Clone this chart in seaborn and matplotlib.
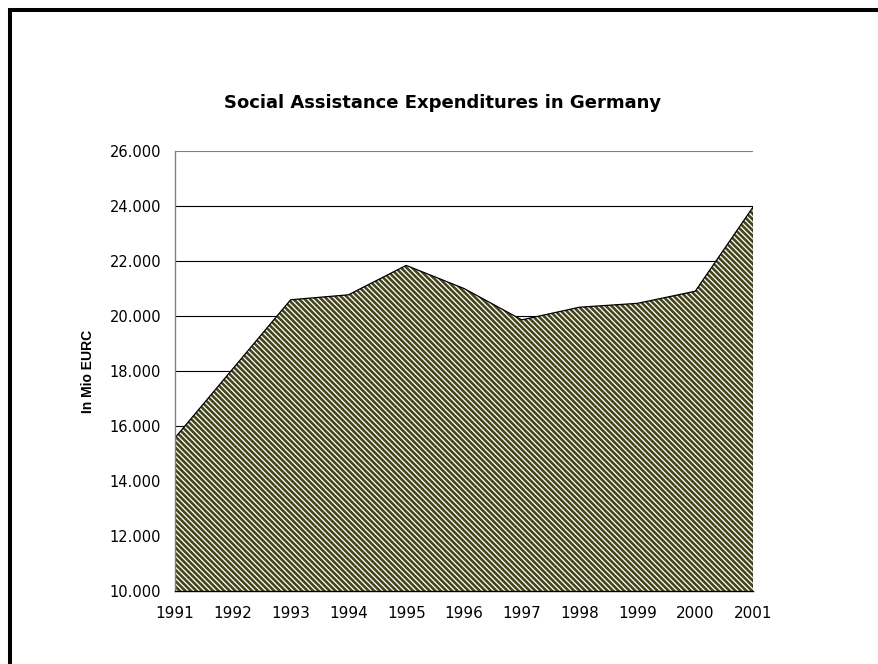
import matplotlib
matplotlib.use("Agg")
import matplotlib.pyplot as plt
from matplotlib.lines import Line2D
from matplotlib.ticker import FuncFormatter
import seaborn as sns
import pandas as pd

# Social assistance expenditures, Germany (million EUR)
years = [1991, 1992, 1993, 1994, 1995, 1996, 1997, 1998, 1999, 2000, 2001]
expenditures = [15570, 18080, 20590, 20770, 21840, 21000, 19860, 20320, 20460, 20900, 23960]
y_ticks = [10000, 12000, 14000, 16000, 18000, 20000, 22000, 24000, 26000]

title = "Social Assistance Expenditures in Germany"
y_label = "In Mio EURC"

df = pd.DataFrame({"year": years, "value": expenditures})

sns.set_style("white")
plt.rcParams["font.family"] = ["DejaVu Sans"]
plt.rcParams["hatch.linewidth"] = 1.9
plt.rcParams["text.color"] = "black"
plt.rcParams["axes.labelcolor"] = "black"

W, H = 879, 664
fig = plt.figure(figsize=(W / 100, H / 100), dpi=100)
ax = fig.add_axes([175 / W, 1 - 591 / H, (753 - 175) / W, (591 - 151) / H])

# Horizontal gridlines behind the area
for v in y_ticks[1:]:
    ax.axhline(v, color="#808080" if v == y_ticks[-1] else "black",
               linewidth=0.8, zorder=0)

# Hatched area
ax.fill_between(df["year"], df["value"], y_ticks[0], facecolor="white",
                edgecolor="#45451c", hatch="\\" * 6, linewidth=0, zorder=1)
# Area outline
sns.lineplot(data=df, x="year", y="value", ax=ax, color="black",
             linewidth=0.9, zorder=2)
ax.vlines(years[-1], y_ticks[0], expenditures[-1], color="black",
          linewidth=0.9, zorder=2)

ax.set_xlim(years[0], years[-1])
ax.set_ylim(y_ticks[0], y_ticks[-1])
ax.set_xticks(years)
ax.set_yticks(y_ticks)
ax.yaxis.set_major_formatter(FuncFormatter(lambda v, p: f"{v:,.0f}".replace(",", ".")))

for s in ["top", "right"]:
    ax.spines[s].set_visible(False)
ax.spines["left"].set_color("#808080")
ax.spines["left"].set_linewidth(1.0)
ax.spines["bottom"].set_color("black")
ax.spines["bottom"].set_linewidth(1.0)
ax.spines["bottom"].set_zorder(3)

ax.tick_params(axis="both", which="major", direction="out", length=5, width=1,
               colors="black", labelsize=10.5, pad=5)
ax.tick_params(axis="x", labelsize=11, pad=6)
ax.tick_params(axis="y", color="#606060")
ax.set_xlabel("")
ax.set_ylabel(y_label, fontsize=10, fontweight="bold",
              family=["Liberation Sans", "DejaVu Sans"])
ax.yaxis.set_label_coords(-(175 - 95) / (753 - 175), 0.5)

fig.text(443 / W, 1 - 108 / H, title, ha="center", va="baseline",
         fontsize=13, fontweight="bold", color="black")

# Frame edges at top and left
fig.add_artist(Line2D([10.3 / W, 10.3 / W], [1 - 8.3 / H, 0], color="black",
                      linewidth=2.9, transform=fig.transFigure,
                      solid_capstyle="butt"))
fig.add_artist(Line2D([8.3 / W, 1], [1 - 10.3 / H, 1 - 10.3 / H], color="black",
                      linewidth=2.9, transform=fig.transFigure,
                      solid_capstyle="butt"))

fig.savefig("out.png", dpi=100, facecolor="white")
